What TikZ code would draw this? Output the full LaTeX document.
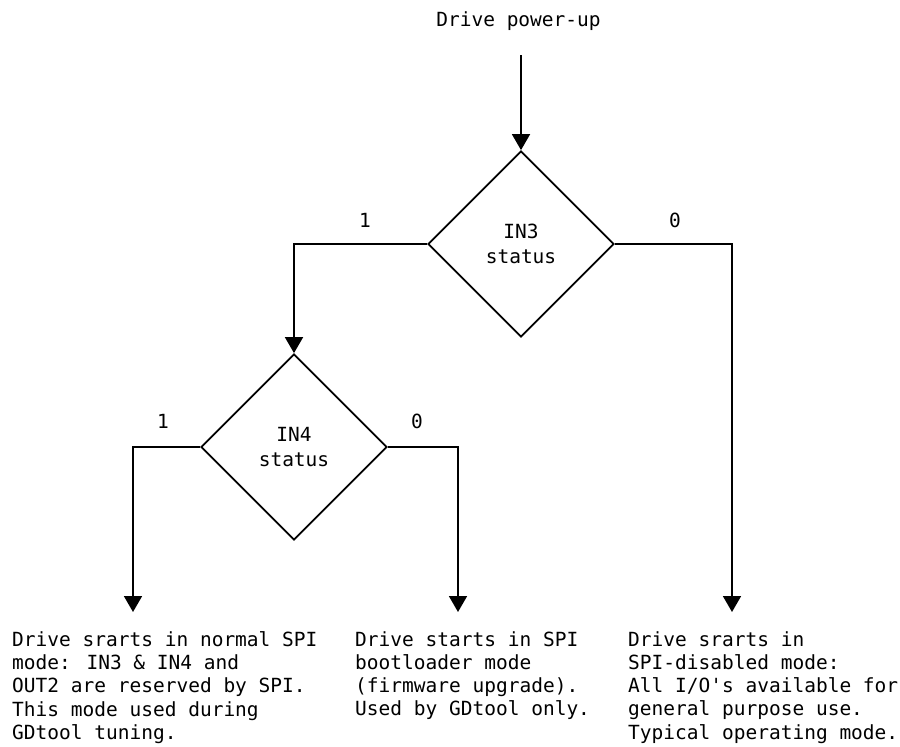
\documentclass[tikz,border=0pt]{standalone}
\usepackage{fontspec}
\newfontfamily\monofnt{DejaVu Sans Mono}
\usetikzlibrary{shapes.geometric,arrows.meta}
\begin{document}
\begin{tikzpicture}[x=1pt,y=-1pt,
  every node/.style={font=\monofnt\fontsize{19.5}{23.3}\selectfont, inner sep=0pt},
  decision/.style={shape=diamond, draw, line width=1.8pt, minimum width=186pt, minimum height=186pt, align=center, font=\monofnt\fontsize{19.5}{25}\selectfont},
  arr/.style={line width=1.8pt, -{Triangle[length=16pt,width=18pt]}},
  outcome/.style={anchor=north west, align=left},
  lbl/.style={anchor=center}]
\useasboundingbox (0,0) rectangle (900,747);
\node[anchor=base] (start) at (518.5,26) {Drive power-up};
\coordinate (s0) at (521,55);
\node[decision] (d1) at (521,244) {IN3\\status};
\node[decision] (d2) at (294,447) {IN4\\status};
\coordinate (c1) at (133,612);
\coordinate (c2) at (458,612);
\coordinate (c3) at (732,612);
\draw[arr] (s0) -- (d1.north);
\draw[arr] (d1.west) -| (d2.north);
\draw[arr] (d1.east) -| (c3);
\draw[arr] (d2.west) -| (c1);
\draw[arr] (d2.east) -| (c2);
\node[lbl] (l1) at (365,220) {1};
\node[lbl] (l0) at (675,220) {0};
\node[lbl] (l3) at (163,421.5) {1};
\node[lbl] (l2) at (417,421.5) {0};
\node[outcome] (o1) at (12,631) {Drive srarts in normal SPI\\mode: IN3 \& IN4 and\\OUT2 are reserved by SPI.\\This mode used during\\GDtool tuning.};
\node[outcome] (o2) at (355,631) {Drive starts in SPI\\bootloader mode\\(firmware upgrade).\\Used by GDtool only.};
\node[outcome] (o3) at (628,631) {Drive srarts in\\SPI-disabled mode:\\All I/O's available for\\general purpose use.\\Typical operating mode.};
\end{tikzpicture}
\end{document}
